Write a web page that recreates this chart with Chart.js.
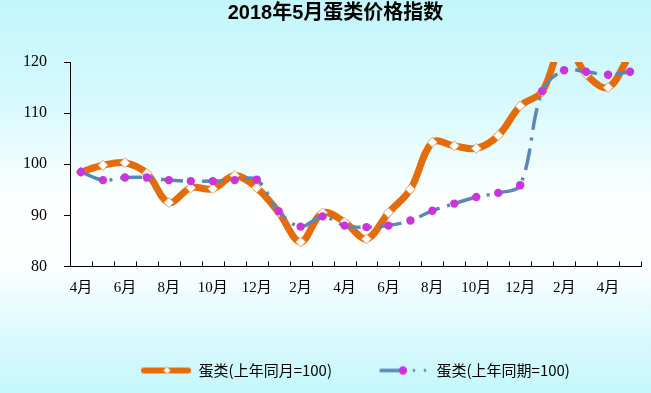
<!DOCTYPE html>
<html><head><meta charset="utf-8">
<script src="https://cdn.jsdelivr.net/npm/chart.js@4/dist/chart.umd.min.js"></script>
<style>html,body{margin:0;padding:0;background:#ffffff;} #wrap{width:651px;height:393px;position:relative;}</style>
</head><body><div id="wrap"><canvas id="c"></canvas></div>
<script>
const titleText = '2018年5月蛋类价格指数';
const categories = ['4月','5月','6月','7月','8月','9月','10月','11月','12月','1月','2月','3月',
                    '4月','5月','6月','7月','8月','9月','10月','11月','12月','1月','2月','3月','4月','5月'];
const seriesNames = ['蛋类(上年同月=100)', '蛋类(上年同期=100)'];
const sameMonthIndex = [98.5, 99.8, 100.3, 98.2, 92.5, 95.4, 95.2, 97.8, 95.4, 90.6, 84.8, 90.5, 88.7,
                        85.4, 90.5, 95.1, 104.3, 103.6, 103.1, 105.6, 111.4, 114.2, 124.0, 117.6, 115.0, 121.5];
const samePeriodIndex = [98.5, 96.9, 97.4, 97.4, 96.9, 96.7, 96.7, 96.9, 97.0, 90.8, 87.8, 89.8, 88.0,
                         87.7, 88.0, 89.0, 90.9, 92.3, 93.6, 94.4, 95.9, 114.3, 118.4, 118.1, 117.5, 118.1];
const yMin = 80, yMax = 120, yStep = 10;

const ORANGE = '#e46c0a', BLUE = '#5a87b6', MAGENTA = '#cc33dd';

function makeLegendImg(kind) {
  const cv = document.createElement('canvas');
  cv.width = 50; cv.height = 12;
  const c = cv.getContext('2d');
  if (kind === 0) {
    c.strokeStyle = ORANGE; c.lineWidth = 6; c.lineCap = 'round';
    c.beginPath(); c.moveTo(3, 6); c.lineTo(47, 6); c.stroke();
    c.fillStyle = '#fff'; c.strokeStyle = '#e8a060'; c.lineWidth = 1;
    c.beginPath(); c.moveTo(26, 2.5); c.lineTo(29.5, 6); c.lineTo(26, 9.5); c.lineTo(22.5, 6); c.closePath();
    c.fill(); c.stroke();
  } else {
    c.strokeStyle = BLUE; c.lineWidth = 3.5; c.lineCap = 'round';
    c.beginPath(); c.moveTo(2, 6); c.lineTo(24, 6); c.stroke();
    c.fillStyle = MAGENTA;
    c.beginPath(); c.arc(24, 6, 4.2, 0, Math.PI * 2); c.fill();
    c.fillStyle = BLUE;
    c.beginPath(); c.arc(35, 6, 1.4, 0, Math.PI * 2); c.fill();
    c.beginPath(); c.arc(46, 6, 1.4, 0, Math.PI * 2); c.fill();
  }
  return cv;
}
const legendImgs = [makeLegendImg(0), makeLegendImg(1)];

const bgPlugin = {
  id: 'bg',
  beforeDraw(chart) {
    const {ctx, width, height} = chart;
    const g = ctx.createLinearGradient(0, 0, 0, height);
    g.addColorStop(0, '#c2f6fc');
    g.addColorStop(0.25, '#d6f9fd');
    g.addColorStop(0.52, '#ffffff');
    g.addColorStop(0.68, '#fcffff');
    g.addColorStop(0.85, '#dcf9fd');
    g.addColorStop(1, '#c4f8fc');
    ctx.save(); ctx.fillStyle = g; ctx.fillRect(0, 0, width, height); ctx.restore();
  }
};

const xTickPlugin = {
  id: 'xticks',
  afterDraw(chart) {
    const xs = chart.scales.x, ctx = chart.ctx, bottom = chart.chartArea.bottom;
    const half = (xs.getPixelForValue(1) - xs.getPixelForValue(0)) / 2;
    ctx.save(); ctx.strokeStyle = '#000'; ctx.lineWidth = 1;
    for (let i = 0; i < categories.length; i++) {
      const p = Math.round(xs.getPixelForValue(i) + half) + 0.5;
      ctx.beginPath(); ctx.moveTo(p, bottom); ctx.lineTo(p, bottom - 5); ctx.stroke();
    }
    ctx.restore();
  }
};

new Chart(document.getElementById('c'), {
  type: 'line',
  data: {
    labels: categories,
    datasets: [
      {
        label: seriesNames[0], data: sameMonthIndex, order: 2, yAxisID: 'y',
        borderColor: ORANGE, borderWidth: 7, tension: 0.35, clip: 0,
        pointStyle: 'rectRot', pointRadius: 5, pointBackgroundColor: '#ffffff',
        pointBorderColor: '#e8a060', pointBorderWidth: 1
      },
      {
        label: seriesNames[1], data: samePeriodIndex, order: 1, yAxisID: 'y',
        borderColor: BLUE, borderWidth: 3.5, tension: 0.35, clip: 0,
        borderDash: [22, 8, 3, 8],
        pointStyle: 'circle', pointRadius: 4.2, pointBackgroundColor: MAGENTA,
        pointBorderColor: MAGENTA, pointBorderWidth: 0
      }
    ]
  },
  options: {
    responsive: true, maintainAspectRatio: false, animation: false,
    layout: { padding: { left: 20, right: 0, top: 0, bottom: 5 } },
    plugins: {
      title: {
        display: true, text: titleText, color: '#000',
        font: { family: "'Liberation Sans','Noto Sans CJK SC'", size: 20, weight: 'bold' },
        padding: { top: 1, bottom: 37 }
      },
      legend: {
        display: true, position: 'bottom', fullSize: false,
        labels: {
          usePointStyle: true, pointStyleWidth: 50, padding: 47, color: '#000',
          font: { family: "'Noto Sans CJK SC'", size: 15 },
          generateLabels() {
            return seriesNames.map((t, i) => ({
              text: t, pointStyle: legendImgs[i], fillStyle: 'transparent',
              strokeStyle: 'transparent', lineWidth: 0, hidden: false, datasetIndex: i, fontColor: '#000'
            }));
          }
        }
      },
      tooltip: { enabled: false }
    },
    scales: {
      x: {
        type: 'category', offset: true,
        grid: { display: false, drawTicks: false },
        border: { display: true, color: '#000', width: 1 },
        ticks: {
          autoSkip: false, maxRotation: 0, minRotation: 0, padding: 13, color: '#000',
          font: { family: "'Liberation Serif','Noto Sans CJK SC'", size: 15 },
          callback(v, i) { return i % 2 === 0 ? categories[i] : ''; }
        },
        afterFit(s) { s.height = 49.5; }
      },
      y: {
        position: 'left', min: yMin, max: yMax,
        grid: { display: true, drawOnChartArea: false, drawTicks: true, tickLength: 6, color: '#000' },
        border: { display: true, color: '#000', width: 1 },
        ticks: {
          stepSize: yStep, padding: 17, color: '#000',
          font: { family: "'Liberation Serif'", size: 16 }
        },
        afterFit(s) { s.width = 50; }
      },
      yRight: {
        position: 'right', display: true, min: 0, max: 1,
        grid: { display: false, drawTicks: false },
        border: { display: false },
        ticks: { display: false },
        afterFit(s) { s.width = 10; }
      }
    }
  },
  plugins: [bgPlugin, xTickPlugin]
});
</script>
</body></html>
